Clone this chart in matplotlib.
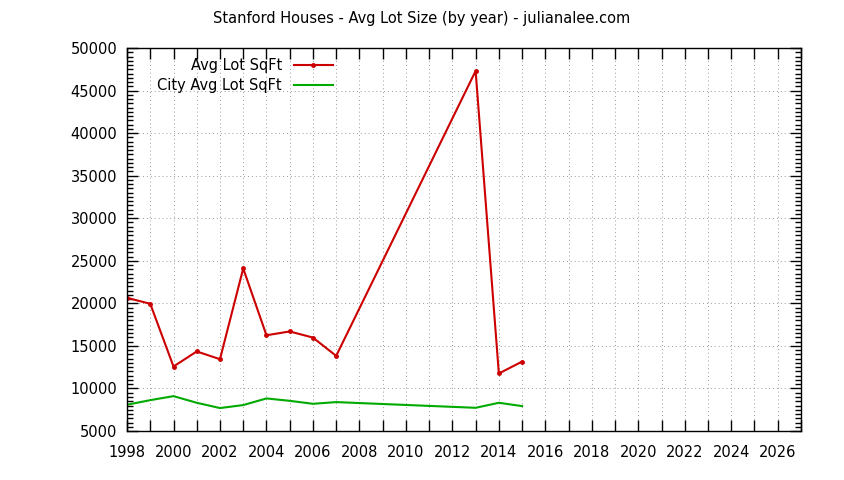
import matplotlib
matplotlib.use('Agg')
import matplotlib.pyplot as plt
from matplotlib.ticker import MultipleLocator

# data
years = [1998, 1999, 2000, 2001, 2002, 2003, 2004, 2005, 2006, 2007, 2013, 2014, 2015]
avg_lot = [20650, 19950, 12580, 14350, 13440, 24100, 16250, 16700, 15980, 13830, 47300, 11760, 13160]
city_avg_lot = [8090, 8630, 9100, 8320, 7700, 8050, 8830, 8550, 8200, 8400, 7730, 8320, 7930]

title = 'Stanford Houses - Avg Lot Size (by year) - julianalee.com'

plt.rcParams['font.family'] = ['DejaVu Sans']
plt.rcParams['font.size'] = 10

fig = plt.figure(figsize=(8.44, 4.8), dpi=100)
ax = fig.add_axes([0.1505, 0.102, 0.949 - 0.1505, 0.9 - 0.102])

ax.plot(years, avg_lot, color='#cc0000', lw=1.5, marker='o', ms=2.5,
        label='Avg Lot SqFt')
ax.plot(years, city_avg_lot, color='#00aa00', lw=1.5, label='City Avg Lot SqFt')

ax.set_xlim(1998, 2027)
ax.set_ylim(5000, 50000)
ax.xaxis.set_major_locator(MultipleLocator(2))
ax.xaxis.set_minor_locator(MultipleLocator(1))
ax.yaxis.set_major_locator(MultipleLocator(5000))
ax.yaxis.set_minor_locator(MultipleLocator(500))

ax.tick_params(which='both', direction='in', top=True, right=True, width=1)
ax.tick_params(axis='x', which='both', length=8)
ax.tick_params(axis='y', which='major', length=8)
ax.tick_params(axis='y', which='minor', length=4)
ax.tick_params(axis='both', which='major', labelsize=10.5)
ax.tick_params(axis='x', which='major', pad=10)
ax.tick_params(axis='y', which='major', pad=7)

ax.grid(True, axis='x', which='both', linestyle=(0, (1, 3)), color='#999999', lw=0.7)
ax.grid(True, axis='y', which='major', linestyle=(0, (1, 3)), color='#999999', lw=0.7)
for s in ax.spines.values():
    s.set_linewidth(1)

fig.text(0.5, 1 - 18 / 480, title, ha='center', va='center', fontsize=10.5)

leg = ax.legend(loc='upper left', bbox_to_anchor=(0.03, 1.0), frameon=False,
                markerfirst=False, handlelength=2.7, handletextpad=0.8,
                labelspacing=0.35, fontsize=10.5, borderaxespad=0.3)
for t in leg.get_texts():
    t.set_ha('right')
leg._legend_box.align = 'right'

fig.savefig('out.png', dpi=100)
